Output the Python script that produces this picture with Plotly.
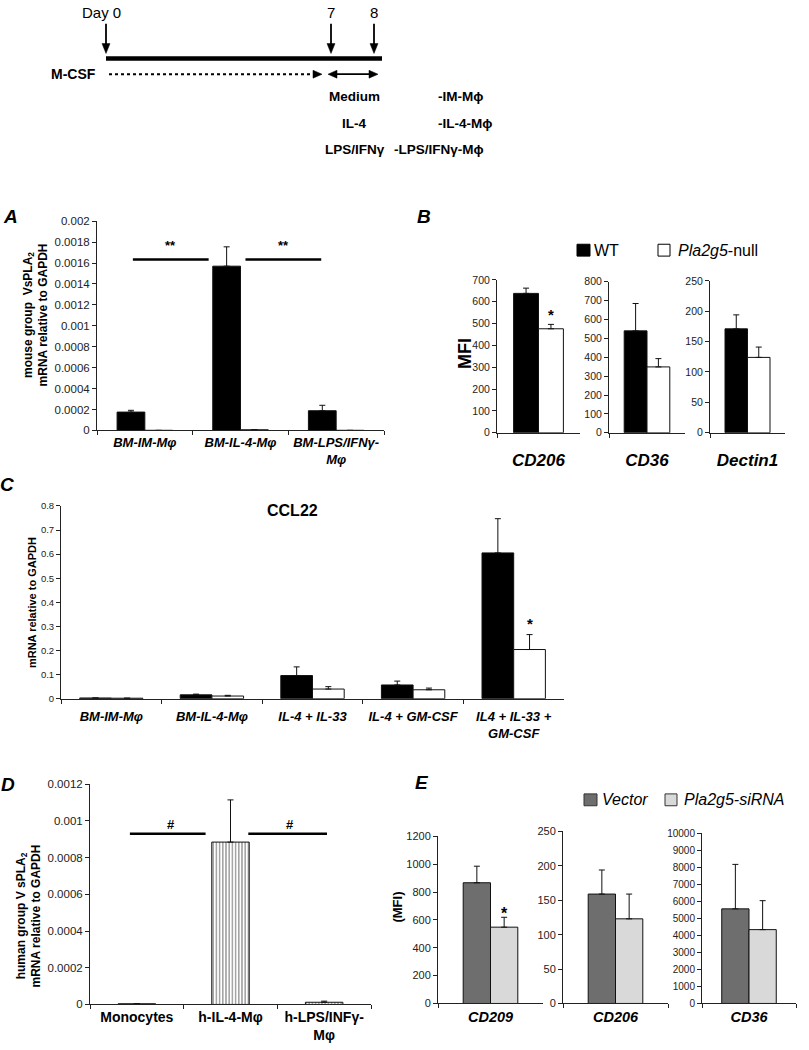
import plotly.graph_objects as go

W, H = 809, 1050
FONT = "Liberation Sans, Arial, sans-serif"


def px(x):
    return x / W


def py(y):
    return 1 - y / H


# ---------------- data ----------------
# Panel A: mouse group V sPLA2 mRNA
a_cats = ["BM-IM-Mφ", "BM-IL-4-Mφ", "BM-LPS/IFNγ-Mφ"]
a_labels = ["BM-IM-Mφ", "BM-IL-4-Mφ", "BM-LPS/IFNγ-<br>Mφ"]
a_wt = [0.000175, 0.00157, 0.000188]
a_wt_sd = [0.000017, 0.000185, 0.000052]
a_ko = [0.0, 0.000006, 0.0]
a_ko_sd = [0.0, 0.0, 0.0]
a_ticks = [0, 0.0002, 0.0004, 0.0006, 0.0008, 0.001, 0.0012, 0.0014, 0.0016, 0.0018, 0.002]
a_ticktext = ["0", "0.0002", "0.0004", "0.0006", "0.0008", "0.001", "0.0012",
              "0.0014", "0.0016", "0.0018", "0.002"]

# Panel B: MFI, WT vs Pla2g5-null
b_cats = ["CD206", "CD36", "Dectin1"]
b_wt = [638, 540, 171]
b_wt_sd = [24, 145, 23]
b_ko = [476, 349, 124]
b_ko_sd = [20, 44, 17]
b_max = [700, 800, 250]
b_dtick = [100, 100, 50]

# Panel C: CCL22
c_cats = ["BM-IM-Mφ", "BM-IL-4-Mφ", "IL-4 + IL-33", "IL-4 + GM-CSF", "IL4 + IL-33 + GM-CSF"]
c_labels = ["BM-IM-Mφ", "BM-IL-4-Mφ", "IL-4 + IL-33", "IL-4 + GM-CSF", "IL4 + IL-33 +<br>GM-CSF"]
c_wt = [0.003, 0.016, 0.096, 0.057, 0.605]
c_wt_sd = [0.0, 0.003, 0.036, 0.016, 0.142]
c_ko = [0.002, 0.011, 0.040, 0.037, 0.204]
c_ko_sd = [0.0, 0.003, 0.010, 0.007, 0.062]
c_ticks = [0, 0.1, 0.2, 0.3, 0.4, 0.5, 0.6, 0.7, 0.8]
c_ticktext = ["0", "0.1", "0.2", "0.3", "0.4", "0.5", "0.6", "0.7", "0.8"]

# Panel D: human group V sPLA2 mRNA
d_cats = ["Monocytes", "h-IL-4-Mφ", "h-LPS/INFγ-Mφ"]
d_labels = ["Monocytes", "h-IL-4-Mφ", "h-LPS/INFγ-<br>Mφ"]
d_vals = [0.000004, 0.000885, 0.000012]
d_sd = [0.0, 0.00023, 0.000006]
d_ticks = [0, 0.0002, 0.0004, 0.0006, 0.0008, 0.001, 0.0012]
d_ticktext = ["0", "0.0002", "0.0004", "0.0006", "0.0008", "0.001", "0.0012"]

# Panel E: MFI, Vector vs Pla2g5-siRNA
e_cats = ["CD209", "CD206", "CD36"]
e_vec = [867, 159, 5554]
e_vec_sd = [119, 35, 2612]
e_si = [548, 123, 4335]
e_si_sd = [71, 36, 1701]
e_max = [1200, 250, 10000]
e_dtick = [200, 50, 1000]

series_b = ["WT", "Pla2g5-null"]
series_e = ["Vector", "Pla2g5-siRNA"]

# ---------------- layout helpers ----------------
fig = go.Figure()
layout = dict(
    width=W, height=H, margin=dict(l=0, r=0, t=0, b=0),
    paper_bgcolor="white", plot_bgcolor="white", showlegend=False,
    font=dict(family=FONT, color="black"),
    barmode="overlay",
)
annotations = []
shapes = []

axis_count = [0]


def add_axes(x0, x1, y_top, y_bot, cats, labels, ymax, tickvals, ticktext=None,
             ytick_size=11, xlab_size=13, xlab_italic=True, xlab_standoff=None):
    axis_count[0] += 1
    n = axis_count[0]
    xk = "xaxis" if n == 1 else f"xaxis{n}"
    yk = "yaxis" if n == 1 else f"yaxis{n}"
    xr = "x" if n == 1 else f"x{n}"
    yr = "y" if n == 1 else f"y{n}"
    xa = dict(
        domain=[px(x0), px(x1)], anchor=yr, type="category",
        categoryorder="array", categoryarray=cats,
        range=[-0.5, len(cats) - 0.5],
        tickvals=cats, ticktext=labels,
        showline=True, linecolor="#222", linewidth=1,
        ticks="outside", tickson="boundaries", ticklen=4, tickcolor="#222",
        showgrid=False, zeroline=False, fixedrange=True,
        tickfont=dict(family=FONT, size=xlab_size, weight="bold",
                      style="italic" if xlab_italic else "normal", color="black"),
    )
    if xlab_standoff is not None:
        xa["ticklabelstandoff"] = xlab_standoff
    if ticktext is None:
        ticktext = [str(t) for t in tickvals]
    ya = dict(
        domain=[py(y_bot), py(y_top)], anchor=xr,
        range=[0, ymax], tickvals=tickvals, ticktext=ticktext,
        showline=True, linecolor="#222", linewidth=1,
        ticks="outside", ticklen=4, tickcolor="#222",
        showgrid=False, zeroline=False, fixedrange=True,
        tickfont=dict(family=FONT, size=ytick_size, color="#222"),
    )
    layout[xk] = xa
    layout[yk] = ya
    return xr, yr


def add_bar(xr, yr, cats, vals, sd, width, offset, color, pattern=None):
    marker = dict(color=color, line=dict(color="#111", width=1))
    if pattern is not None:
        marker["pattern"] = pattern
    fig.add_trace(go.Bar(
        x=cats, y=vals, xaxis=xr, yaxis=yr, width=width, offset=offset,
        marker=marker,
        error_y=dict(type="data", array=sd, arrayminus=[0] * len(sd),
                     symmetric=False, color="#111", thickness=1, width=3),
        hoverinfo="skip",
    ))


def text(x, y, s, size, bold=False, italic=False, xanchor="center", xref="paper",
         yref="paper", angle=0, color="black"):
    annotations.append(dict(
        x=x, y=y, xref=xref, yref=yref, text=s, showarrow=False,
        xanchor=xanchor, yanchor="middle", textangle=angle,
        font=dict(family=FONT, size=size, color=color,
                  weight="bold" if bold else "normal",
                  style="italic" if italic else "normal"),
    ))


def line(x0, y0, x1, y1, width, dash="solid"):
    shapes.append(dict(type="line", xref="paper", yref="paper",
                       x0=px(x0), x1=px(x1), y0=py(y0), y1=py(y1),
                       line=dict(color="black", width=width, dash=dash)))


def tri(points):
    path = "M " + " L ".join(f"{px(x)},{py(y)}" for x, y in points) + " Z"
    shapes.append(dict(type="path", xref="paper", yref="paper", path=path,
                       fillcolor="black", line=dict(color="black", width=0.5)))


# ---------------- timeline schematic ----------------
line(106, 53, 382, 53, 4.5)
for xh in (106, 331, 374):
    line(xh, 18, xh, 40, 1.8)
    tri([(xh - 4, 38), (xh + 4, 38), (xh, 48)])
text(px(101), py(7), "Day 0", 15)
text(px(331), py(7), "7", 15)
text(px(374), py(7), "8", 15)
text(px(98), py(69), "M-CSF", 14, bold=True, xanchor="right")
line(109, 69, 314, 69, 2, dash="dot")
tri([(313, 65), (313, 73), (322, 69)])
line(334, 69, 372, 69, 1.8)
tri([(328, 69), (337, 65), (337, 73)])
tri([(378, 69), (369, 65), (369, 73)])
text(px(354), py(92), "Medium", 13.5, bold=True)
text(px(354), py(119), "IL-4", 13.5, bold=True)
text(px(355), py(145), "LPS/IFNγ", 13.5, bold=True)
text(px(436), py(92), "-IM-Mϕ", 13.5, bold=True, xanchor="left")
text(px(436), py(119), "-IL-4-Mϕ", 13.5, bold=True, xanchor="left")
text(px(392), py(145), "-LPS/IFNγ-Mϕ", 13.5, bold=True, xanchor="left")

# ---------------- Panel A ----------------
xa_, ya_ = add_axes(97, 384, 217.7, 429.3, a_cats, a_labels, 0.002, a_ticks, a_ticktext,
                    ytick_size=11.5, xlab_size=13)
wA = 0.29
add_bar(xa_, ya_, a_cats, a_wt, a_wt_sd, wA, -wA, "black")
add_bar(xa_, ya_, a_cats, a_ko, a_ko_sd, wA, 0, "white")
text(px(10), py(213), "A", 19, bold=True, italic=True)
text(px(36), py(313), "mouse group  VsPLA<sub>2</sub><br>mRNA relative to GAPDH", 12,
     bold=True, angle=-90)
for (x0, x1, xs) in [(-0.125, 0.667, 0.27), (1.052, 1.844, 1.45)]:
    shapes.append(dict(type="line", xref=xa_, yref=ya_, x0=x0, x1=x1,
                       y0=0.001635, y1=0.001635, line=dict(color="black", width=2.5)))
    text(xs, 0.00177, "**", 13, bold=True, xref=xa_, yref=ya_)

# ---------------- Panel B ----------------
b_geo = [(497, 580, 277, 431.7), (609, 685, 279, 431.7), (710, 785, 278, 431.7)]
for i, (x0, x1, yt, yb) in enumerate(b_geo):
    ticks = list(range(0, b_max[i] + 1, b_dtick[i]))
    xr, yr = add_axes(x0, x1, yt, yb, [b_cats[i]], [b_cats[i]], b_max[i], ticks,
                      ytick_size=10.5, xlab_size=17, xlab_standoff=12)
    w = 0.3
    add_bar(xr, yr, [b_cats[i]], [b_wt[i]], [b_wt_sd[i]], w, -w, "black")
    add_bar(xr, yr, [b_cats[i]], [b_ko[i]], [b_ko_sd[i]], w, 0, "white")
    if i == 0:
        text(0.15, 542, "*", 15, bold=True, xref=xr, yref=yr)
text(px(424), py(213), "B", 19, bold=True, italic=True)
text(px(465), py(352), "MFI", 18, bold=True, angle=-90)
shapes.append(dict(type="rect", xref="paper", yref="paper", x0=px(577), x1=px(590),
                   y0=py(253), y1=py(241), fillcolor="black", line=dict(color="black", width=1)))
text(px(592), py(247), series_b[0], 16, xanchor="left")
shapes.append(dict(type="rect", xref="paper", yref="paper", x0=px(658), x1=px(670),
                   y0=py(253), y1=py(241), fillcolor="white", line=dict(color="black", width=1)))
text(px(676), py(247), "<i>Pla2g5</i>-null", 16, xanchor="left")

# ---------------- Panel C ----------------
xc, yc = add_axes(61, 564, 505.7, 700.7, c_cats, c_labels, 0.8, c_ticks, c_ticktext,
                  ytick_size=9.5, xlab_size=13, xlab_standoff=6)
wC = 0.315
add_bar(xc, yc, c_cats, c_wt, c_wt_sd, wC, -wC, "black")
add_bar(xc, yc, c_cats, c_ko, c_ko_sd, wC, 0, "white")
text(px(7), py(484), "C", 19, bold=True, italic=True)
text(px(32), py(604), "mRNA relative to GAPDH", 11, bold=True, angle=-90)
text(px(292), py(510), "CCL22", 16, bold=True)
text(4.158, 0.31, "*", 15, bold=True, xref=xc, yref=yc)

# ---------------- Panel D ----------------
xd, yd = add_axes(90, 371, 787.3, 1010, d_cats, d_labels, 0.0012, d_ticks, d_ticktext,
                  ytick_size=11.5, xlab_size=14, xlab_italic=False)
wD = 0.4
add_bar(xd, yd, d_cats, d_vals, d_sd, wD, -wD / 2, "white",
        pattern=dict(shape="|", fgcolor="black", bgcolor="white", size=3.2, solidity=0.35))
text(px(8), py(787), "D", 19, bold=True, italic=True)
text(px(29), py(921), "human group V sPLA<sub>2</sub><br>mRNA relative to GAPDH", 12,
     bold=True, angle=-90)
for (x0, x1, xs) in [(-0.074, 0.734, 0.36), (1.19, 2.03, 1.64)]:
    shapes.append(dict(type="line", xref=xd, yref=yd, x0=x0, x1=x1,
                       y0=0.000931, y1=0.000931, line=dict(color="black", width=2.5)))
    text(xs, 0.00098, "#", 13, bold=True, xref=xd, yref=yd)

# ---------------- Panel E ----------------
e_geo = [(438, 543, 840, 1009), (563, 668, 835, 1009), (702, 796, 836.7, 1009)]
e_w = [0.26, 0.26, 0.29]
for i, (x0, x1, yt, yb) in enumerate(e_geo):
    ticks = list(range(0, e_max[i] + 1, e_dtick[i]))
    xr, yr = add_axes(x0, x1, yt, yb, [e_cats[i]], [e_cats[i]], e_max[i], ticks,
                      [str(t) for t in ticks],
                      ytick_size=11 if i < 2 else 10, xlab_size=14.5)
    w = e_w[i]
    add_bar(xr, yr, [e_cats[i]], [e_vec[i]], [e_vec_sd[i]], w, -w, "#6e6e6e")
    add_bar(xr, yr, [e_cats[i]], [e_si[i]], [e_si_sd[i]], w, 0, "#d9d9d9")
    if i == 0:
        text(0.13, 648, "*", 16, bold=True, xref=xr, yref=yr)
text(px(422), py(785), "E", 19, bold=True, italic=True)
text(px(398), py(912), "(MFI)", 13, bold=True, angle=-90)
shapes.append(dict(type="rect", xref="paper", yref="paper", x0=px(584), x1=px(597),
                   y0=py(809), y1=py(797), fillcolor="#6e6e6e", line=dict(color="#333", width=1)))
text(px(600), py(803), "<i>" + series_e[0] + "</i>", 16, xanchor="left")
shapes.append(dict(type="rect", xref="paper", yref="paper", x0=px(665), x1=px(677),
                   y0=py(809), y1=py(797), fillcolor="#d9d9d9", line=dict(color="#333", width=1)))
text(px(682), py(803), "<i>" + series_e[1] + "</i>", 16, xanchor="left")

layout["annotations"] = annotations
layout["shapes"] = shapes
fig.update_layout(**layout)
fig.write_html("out.html", config={"displayModeBar": False, "staticPlot": True},
               post_script="document.body.style.margin='0';document.body.style.overflow='hidden';")
